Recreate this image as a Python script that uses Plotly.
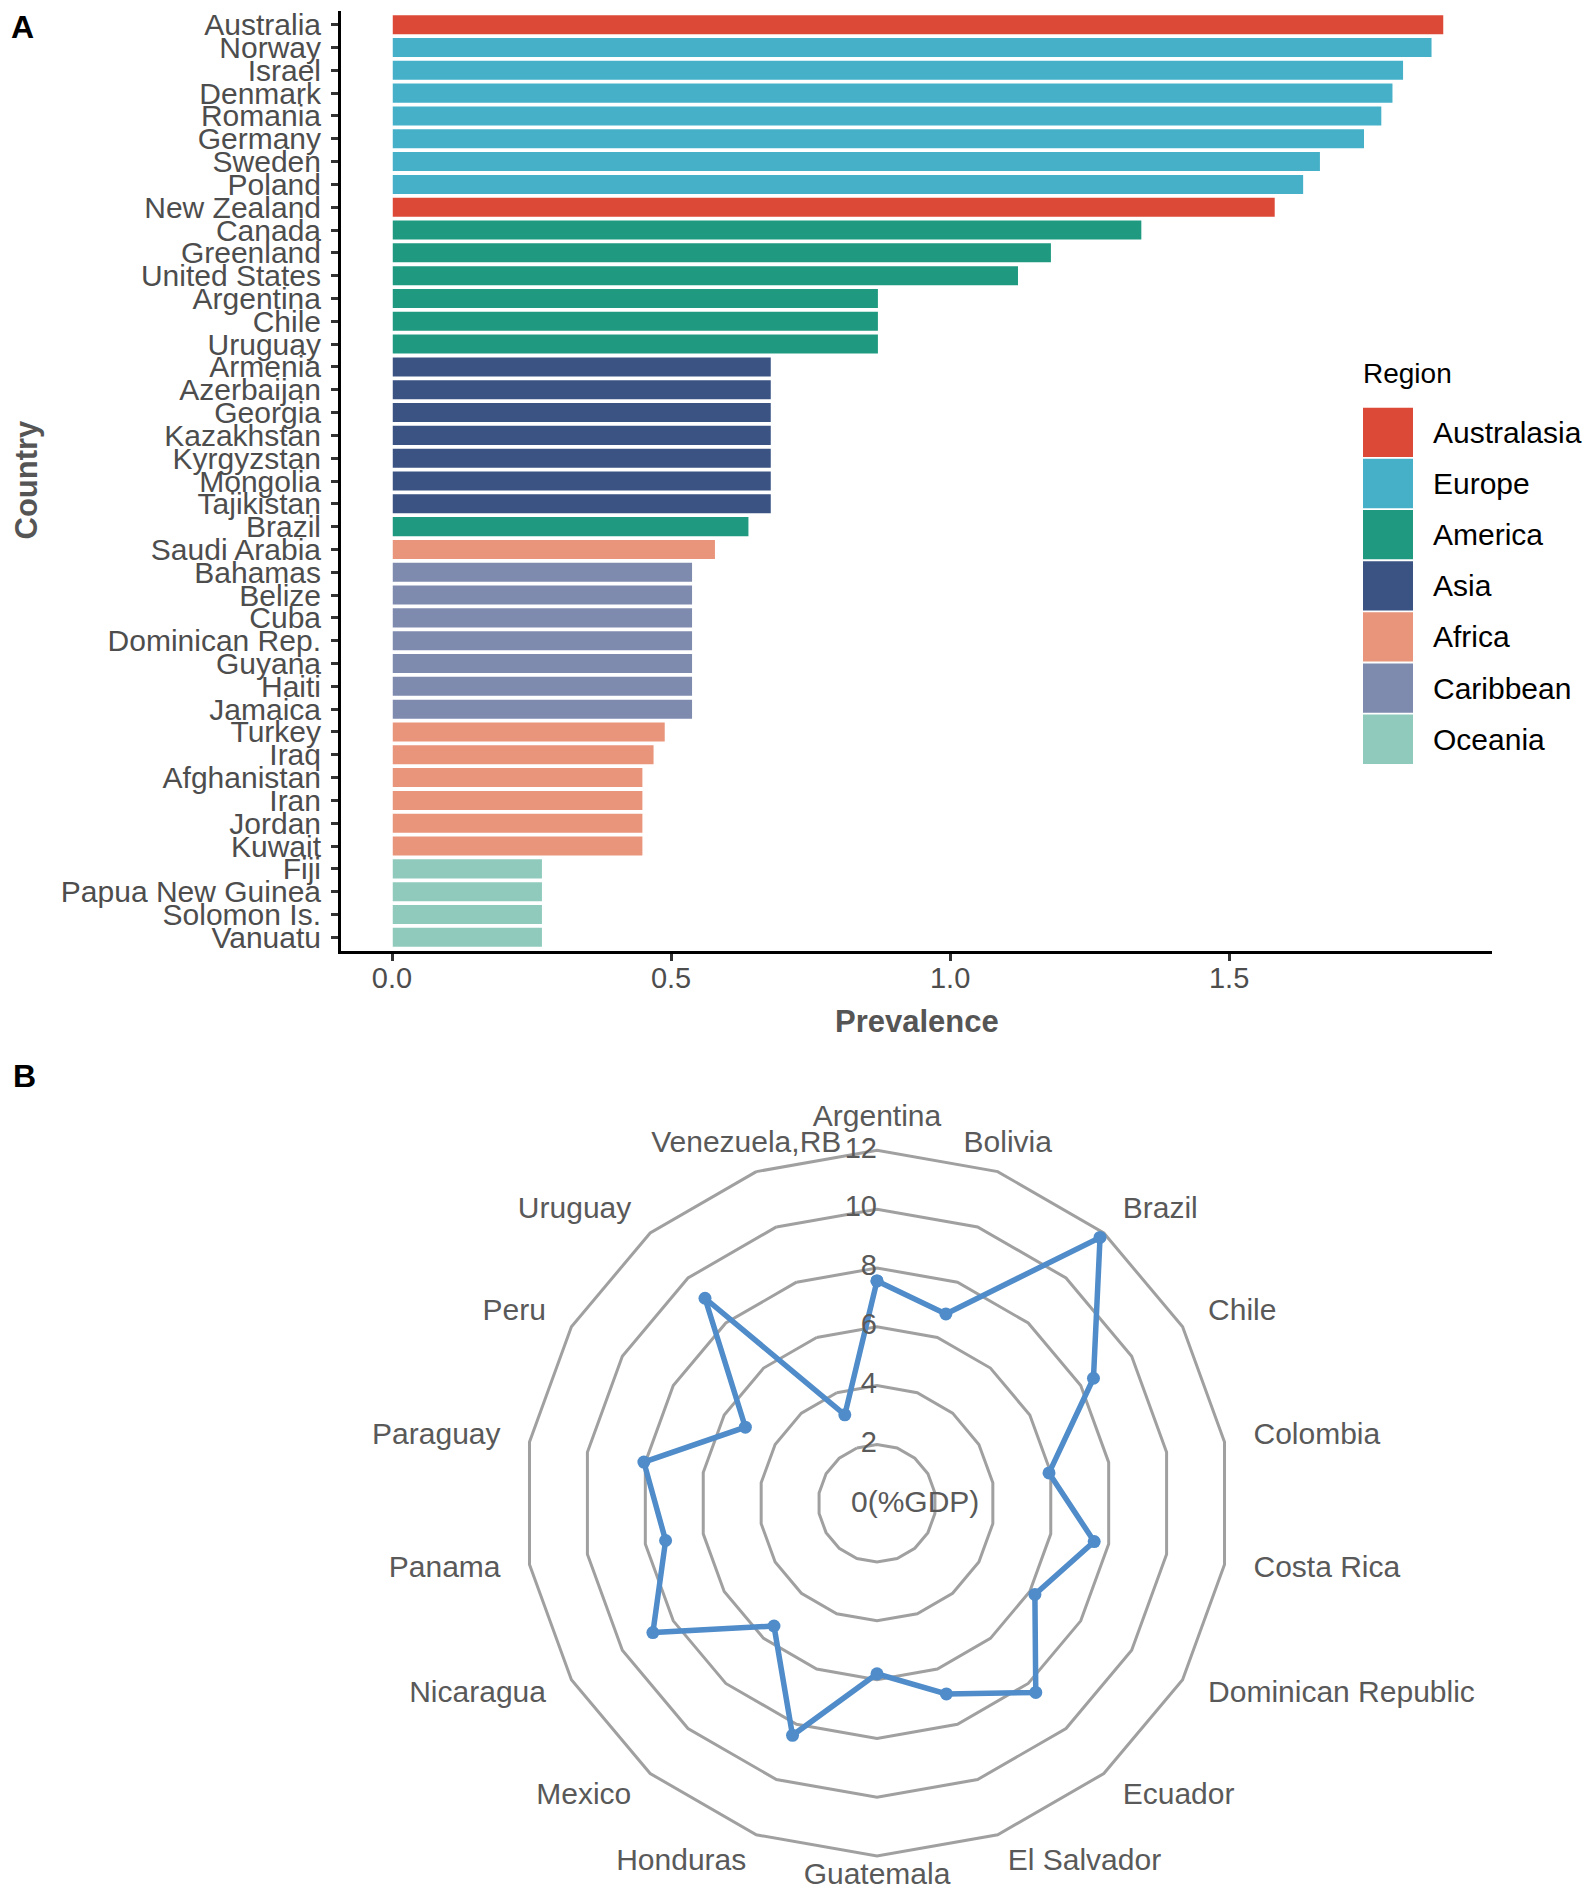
import plotly.graph_objects as go

# ---------------- Panel A data ----------------
countries = ["Australia", "Norway", "Israel", "Denmark", "Romania", "Germany", "Sweden",
             "Poland", "New Zealand", "Canada", "Greenland", "United States", "Argentina",
             "Chile", "Uruguay", "Armenia", "Azerbaijan", "Georgia", "Kazakhstan",
             "Kyrgyzstan", "Mongolia", "Tajikistan", "Brazil", "Saudi Arabia", "Bahamas",
             "Belize", "Cuba", "Dominican Rep.", "Guyana", "Haiti", "Jamaica", "Turkey",
             "Iraq", "Afghanistan", "Iran", "Jordan", "Kuwait", "Fiji", "Papua New Guinea",
             "Solomon Is.", "Vanuatu"]
prevalence = [1.885, 1.864, 1.813, 1.794, 1.774, 1.743, 1.664, 1.634, 1.583, 1.344, 1.182,
              1.123, 0.872, 0.872, 0.872, 0.680, 0.680, 0.680, 0.680, 0.680, 0.680, 0.680,
              0.640, 0.580, 0.539, 0.539, 0.539, 0.539, 0.539, 0.539, 0.539, 0.490, 0.470,
              0.450, 0.450, 0.450, 0.450, 0.270, 0.270, 0.270, 0.270]
country_region = ["Australasia", "Europe", "Europe", "Europe", "Europe", "Europe", "Europe",
                  "Europe", "Australasia", "America", "America", "America", "America",
                  "America", "America", "Asia", "Asia", "Asia", "Asia", "Asia", "Asia", "Asia",
                  "America", "Africa", "Caribbean", "Caribbean", "Caribbean", "Caribbean",
                  "Caribbean", "Caribbean", "Caribbean", "Africa", "Africa", "Africa", "Africa",
                  "Africa", "Africa", "Oceania", "Oceania", "Oceania", "Oceania"]
region_names = ["Australasia", "Europe", "America", "Asia", "Africa", "Caribbean", "Oceania"]
region_colors = ["#DC4A37", "#45B0C8", "#1F9A80", "#3A5383", "#E8957B", "#7F8BAE", "#8FCABD"]
x_ticks = [0.0, 0.5, 1.0, 1.5]

# ---------------- Panel B data ----------------
latam = ["Argentina", "Bolivia", "Brazil", "Chile", "Colombia", "Costa Rica",
         "Dominican Republic", "Ecuador", "El Salvador", "Guatemala", "Honduras", "Mexico",
         "Nicaragua", "Panama", "Paraguay", "Peru", "Uruguay", "Venezuela,RB"]
gdp_share = [7.56, 6.85, 11.8, 8.5, 5.94, 7.5, 6.2, 8.4, 6.9, 5.8, 8.4, 5.45, 8.8, 7.3,
             8.05, 5.17, 9.1, 3.2]
radial_ticks = [2, 4, 6, 8, 10, 12]

# page is rendered with an 8px body margin: work in page pixels, convert to figure
OFF = 8
W, H = 1595 - 2 * OFF, 1899 - 2 * OFF
FONT = "Liberation Sans, Arial, sans-serif"


def px_x(v):
    return min(1.0, max(0.0, (v - OFF) / W))


def px_y(v):
    return min(1.0, max(0.0, 1 - (v - OFF) / H))


fig = go.Figure()

color_of = dict(zip(region_names, region_colors))
for reg in region_names:
    ys = [c for c, r in zip(countries, country_region) if r == reg]
    xs = [v for v, r in zip(prevalence, country_region) if r == reg]
    fig.add_trace(go.Bar(
        x=xs, y=ys, orientation="h", name=reg, width=0.9,
        marker=dict(color=color_of[reg], line=dict(color="white", width=1.5)),
        showlegend=False, xaxis="x", yaxis="y"))

# radar
fig.add_trace(go.Scatterpolar(
    r=gdp_share + gdp_share[:1], theta=latam + latam[:1], mode="lines+markers",
    line=dict(color="#4F8CC9", width=5.5), marker=dict(color="#4F8CC9", size=13),
    showlegend=False, subplot="polar"))
fig.add_trace(go.Scatterpolar(
    r=radial_ticks, theta=[latam[0]] * len(radial_ticks),
    text=[str(t) for t in radial_ticks], mode="text", textposition="middle left",
    textfont=dict(family=FONT, size=29, color="#595959"), showlegend=False,
    subplot="polar", cliponaxis=False))

# category labels just outside the outer ring
n = len(latam)
label_pos, label_r = [], []
for i in range(n):
    ang = 360.0 * i / n
    if ang == 0:
        label_pos.append("top center")
        label_r.append(12.58)
    elif abs(ang - 180) < 1e-6:
        label_pos.append("middle center")
        label_r.append(12.71)
    elif ang < 30 or ang > 330:
        label_pos.append("middle center")
        label_r.append(13.0)
    elif ang < 180:
        label_pos.append("middle right")
        label_r.append(13.0)
    else:
        label_pos.append("middle left")
        label_r.append(13.0)
fig.add_trace(go.Scatterpolar(
    r=label_r, theta=latam, text=latam, mode="text", textposition=label_pos,
    textfont=dict(family=FONT, size=30, color="#595959"), showlegend=False,
    subplot="polar", cliponaxis=False))

R_OUTER = 354            # pixel radius of the 12 ring
R_MAX = 13.05            # radial range max (room for the labels)
RD = R_OUTER * R_MAX / max(radial_ticks)
CX, CY = 877, 1505
fig.update_layout(
    width=W, height=H, margin=dict(l=0, r=0, t=0, b=0),
    paper_bgcolor="white", plot_bgcolor="white", barmode="overlay",
    font=dict(family=FONT, color="#4D4D4D"),
    xaxis=dict(domain=[px_x(341), px_x(1492)], range=[-0.0914, 1.971],
               tickvals=x_ticks, ticktext=["%.1f" % t for t in x_ticks],
               showline=True, linecolor="black", linewidth=3, ticks="outside",
               ticklen=7, tickwidth=2.5, tickcolor="#333333", showgrid=False,
               zeroline=False, ticklabelstandoff=-8,
               tickfont=dict(family=FONT, size=29, color="#4D4D4D"),
               anchor="y"),
    yaxis=dict(domain=[px_y(951), px_y(8)], type="category",
               categoryorder="array", categoryarray=countries,
               tickmode="array", tickvals=countries, ticktext=countries,
               range=[len(countries) - 0.4, -0.6],
               showline=True, linecolor="black", linewidth=3, ticks="outside",
               ticklen=7, tickwidth=2.5, tickcolor="#333333", showgrid=False,
               zeroline=False, ticklabelstandoff=4,
               tickfont=dict(family=FONT, size=30, color="#4D4D4D"), anchor="x"),
    polar=dict(
        domain=dict(x=[px_x(CX - RD), px_x(CX + RD)],
                    y=[px_y(CY + RD), px_y(CY - RD)]),
        bgcolor="rgba(0,0,0,0)", gridshape="linear",
        radialaxis=dict(range=[0, R_MAX], tickvals=radial_ticks, showticklabels=False,
                        ticks="", showline=False, gridcolor="#A0A0A0", gridwidth=2.6),
        angularaxis=dict(type="category", categoryarray=latam, direction="clockwise",
                         rotation=90, showgrid=False, showline=False, ticks="",
                         showticklabels=False),
    ),
)

ann = []
ann.append(dict(text="<b>A</b>", x=px_x(9), y=px_y(24), xanchor="left", yanchor="middle",
                font=dict(size=32, color="black", family=FONT), showarrow=False,
                xref="paper", yref="paper"))
ann.append(dict(text="<b>B</b>", x=px_x(11), y=px_y(1076), xanchor="left", yanchor="middle",
                font=dict(size=32, color="black", family=FONT), showarrow=False,
                xref="paper", yref="paper"))
ann.append(dict(text="<b>Country</b>", x=px_x(27), y=px_y(478), xanchor="center",
                yanchor="middle", textangle=-90,
                font=dict(size=31, color="#555555", family=FONT), showarrow=False,
                xref="paper", yref="paper"))
ann.append(dict(text="<b>Prevalence</b>", x=px_x(917), y=px_y(1022), xanchor="center",
                yanchor="middle", font=dict(size=31, color="#555555", family=FONT),
                showarrow=False, xref="paper", yref="paper"))
ann.append(dict(text="Region", x=px_x(1361), y=px_y(372), xanchor="left", yanchor="middle",
                font=dict(size=28, color="black", family=FONT), showarrow=False,
                xref="paper", yref="paper"))
ann.append(dict(text="0(%GDP)", x=px_x(849), y=px_y(1503), xanchor="left", yanchor="middle",
                font=dict(size=30, color="#595959", family=FONT), showarrow=False,
                xref="paper", yref="paper"))

shapes = []
key_top, key_step, key_h = 406, 51.3, 49.5
for i, (reg, col) in enumerate(zip(region_names, region_colors)):
    y0 = key_top + i * key_step
    shapes.append(dict(type="rect", xref="paper", yref="paper",
                       x0=px_x(1363), x1=px_x(1413), y0=px_y(y0 + key_h), y1=px_y(y0),
                       fillcolor=col, line=dict(width=0)))
    ann.append(dict(text=reg, x=px_x(1431), y=px_y(y0 + key_h / 2), xanchor="left",
                    yanchor="middle", font=dict(size=30, color="black", family=FONT),
                    showarrow=False, xref="paper", yref="paper"))

fig.update_layout(annotations=ann, shapes=shapes)
fig.write_html("out.html")
